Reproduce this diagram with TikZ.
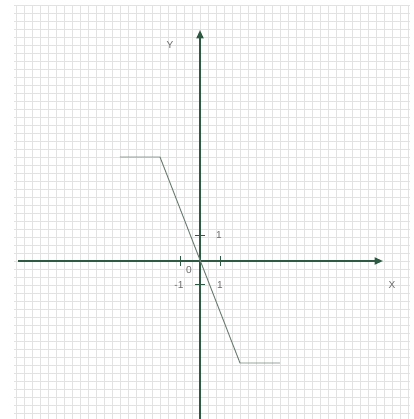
\documentclass[tikz,border=0pt]{standalone}
\usepackage{fontspec}
\setmainfont{Liberation Sans}
\usetikzlibrary{arrows.meta}
\definecolor{axisgreen}{HTML}{2E5A44}
\definecolor{curvegray}{HTML}{6E7F74}
\definecolor{gridgray}{HTML}{E2E2E2}
\definecolor{labelgray}{HTML}{6A6A6A}

\begin{document}
\begin{tikzpicture}[
    axis/.style={axisgreen, line width=2.6pt, -{Triangle[length=12pt, width=10pt]}},
    tick/.style={axisgreen, line width=1pt},
    graph/.style={curvegray, line width=1.4pt},
    lbl/.style={labelgray, font=\Large, inner sep=0pt}
]
\useasboundingbox (-10,-7.9) rectangle (10.7,13.05);

% squared paper
\draw[gridgray, line width=0.7pt] (-9.3,-7.9) grid[step=0.4] (10.5,12.8);

% axes
\coordinate (xl) at (-9.1,0);
\coordinate (xr) at (9.15,0);
\coordinate (yb) at (0,-7.9);
\coordinate (yt) at (0,11.55);
\draw[axis] (xl) -- (xr);
\draw[axis] (yb) -- (yt);

\node[lbl] (xname) at (9.6,-1.2) {X};
\node[lbl] (yname) at (-1.5,10.8) {Y};

% ticks
\draw[tick] (1,-0.25) -- (1,0.25);
\draw[tick] (-1,-0.25) -- (-1,0.25);
\draw[tick] (-0.25,1.3) -- (0.25,1.3);
\draw[tick] (-0.25,-1.15) -- (0.25,-1.15);

\node[lbl] (one y) at (0.95,1.3) {1};
\node[lbl] (zero) at (-0.55,-0.45) {0};
\node[lbl] (minus one) at (-1.05,-1.2) {-1};
\node[lbl] (one x) at (1.0,-1.2) {1};

% the graph
\coordinate (a) at (-4,5.2);
\coordinate (b) at (-2,5.2);
\coordinate (c) at (2,-5.1);
\coordinate (d) at (4,-5.1);
\draw[graph] (a) -- (b) -- (c) -- (d);

\end{tikzpicture}
\end{document}
